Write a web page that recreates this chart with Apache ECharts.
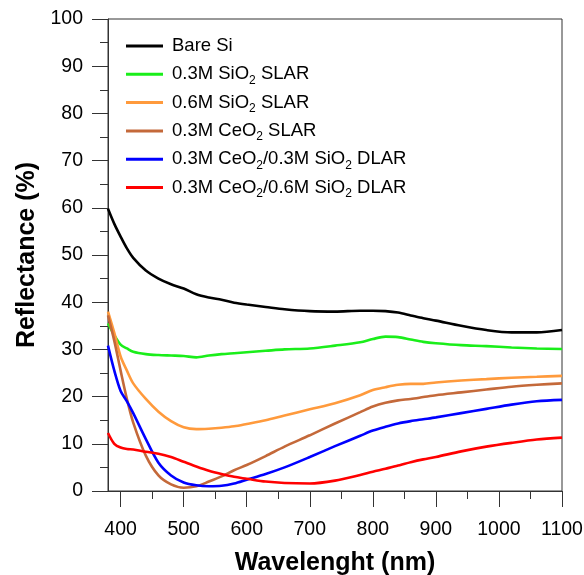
<!DOCTYPE html>
<html>
<head>
<meta charset="utf-8">
<script src="https://cdn.jsdelivr.net/npm/echarts@6/dist/echarts.min.js"></script>
<style>
html,body{margin:0;padding:0;background:#fff;}
#container{width:584px;height:575px;}
</style>
</head>
<body>
<div id="container"></div>
<script>
// wavelength grid (nm) shared by all curves
var wavelength = [380,390,400,410,420,440,460,480,500,520,540,560,580,600,630,660,700,740,780,800,820,840,860,880,900,940,980,1020,1060,1100];

var bareSi     = [59.8,56.6,53.9,51.4,49.4,46.7,45.0,43.8,42.9,41.7,41.0,40.5,39.9,39.5,39.0,38.5,38.1,38.0,38.2,38.2,38.1,37.8,37.2,36.6,36.1,35.0,34.1,33.6,33.6,34.1];
var sio2_03    = [35.5,33.0,31.0,30.2,29.5,29.0,28.8,28.7,28.6,28.3,28.7,29.0,29.2,29.4,29.7,30.0,30.2,30.8,31.5,32.2,32.7,32.6,32.1,31.6,31.3,30.9,30.7,30.4,30.2,30.1];
var sio2_06    = [38.0,33.5,28.5,25.5,22.8,19.5,16.8,14.8,13.5,13.1,13.2,13.4,13.7,14.2,15.0,16.0,17.3,18.6,20.3,21.4,22.0,22.5,22.7,22.7,23.0,23.4,23.7,24.0,24.2,24.4];
var ceo2_03    = [37.2,31.8,25.5,19.5,14.5,7.5,3.3,1.4,0.7,1.0,2.0,3.1,4.4,5.5,7.4,9.4,11.8,14.3,16.7,17.9,18.7,19.2,19.5,19.9,20.3,20.9,21.5,22.1,22.5,22.8];
var dlar_03    = [30.8,25.5,21.2,19.0,16.5,11.0,6.0,3.3,1.8,1.2,1.0,1.1,1.6,2.4,3.6,5.0,7.2,9.5,11.7,12.8,13.6,14.3,14.8,15.2,15.6,16.5,17.4,18.3,19.0,19.3];
var dlar_06    = [12.3,10.0,9.2,8.9,8.8,8.3,7.9,7.2,6.2,5.2,4.3,3.6,3.0,2.6,2.0,1.7,1.6,2.2,3.4,4.1,4.7,5.4,6.1,6.7,7.2,8.4,9.4,10.2,10.9,11.3];

var seriesNames  = ['Bare Si','0.3M SiO2 SLAR','0.6M SiO2 SLAR','0.3M CeO2 SLAR','0.3M CeO2/0.3M SiO2 DLAR','0.3M CeO2/0.6M SiO2 DLAR'];
var seriesColors = ['#000000','#1aee1a','#ff9a3c','#c4693a','#0000ff','#ff0000'];
var seriesValues = [bareSi, sio2_03, sio2_06, ceo2_03, dlar_03, dlar_06];

var xMajor = [400,500,600,700,800,900,1000,1100];
var xMinor = [450,550,650,750,850,950,1050];

var font = 'Arial, "Liberation Sans", sans-serif';

function pairs(vals){
	var out = [];
	for(var i=0;i<wavelength.length;i++){
		out.push([wavelength[i], vals[i]]);
	}
	return out;
}

var series = [];
for(var k=0;k<seriesNames.length;k++){
	series.push({
		name: seriesNames[k],
		type: 'line',
		xAxisIndex: 0,
		symbol: 'none',
		smooth: 0.3,
		data: pairs(seriesValues[k]),
		lineStyle: {color: seriesColors[k], width: 2.6},
		itemStyle: {color: seriesColors[k]}
	});
}

var myChart = echarts.init(document.getElementById('container'));
myChart.setOption({
	animation: false,
	grid: {
		left: 108, right: 22, top: 19, bottom: 84,
		outerBoundsMode: 'none',
		containLabel: false,
		show: true, borderColor: '#333', borderWidth: 1
	},
	legend: {
		orient: 'vertical',
		left: 126, top: 34,
		padding: 0,
		icon: 'rect',
		itemWidth: 37, itemHeight: 3, itemGap: 4.3,
		data: seriesNames,
		formatter: function(name){
			return name.replace(/O2/g, 'O{s|2}');
		},
		textStyle: {
			fontFamily: font, fontSize: 18.5, color: '#000',
			padding: [0,0,0,4],
			lineHeight: 24,
			rich: {
				s: {fontFamily: font, fontSize: 12, color: '#000', verticalAlign: 'bottom', lineHeight: 24}
			}
		}
	},
	xAxis: [{
		type: 'value',
		min: 380, max: 1100,
		name: 'Wavelenght (nm)',
		nameLocation: 'middle',
		nameGap: 60,
		nameTextStyle: {fontFamily: font, fontSize: 25, fontWeight: 'bold', color: '#000'},
		axisLine: {show: true, lineStyle: {color: '#333', width: 1}},
		axisTick: {show: true, inside: false, length: 16, customValues: xMajor, lineStyle: {color: '#333'}},
		axisLabel: {customValues: xMajor, margin: 29, fontFamily: font, fontSize: 19.5, color: '#000',
			formatter: function(v){ return String(v); }},
		splitLine: {show: false}
	}, {
		type: 'value',
		min: 380, max: 1100,
		position: 'bottom',
		axisLine: {show: false},
		axisTick: {show: true, inside: false, length: 8, customValues: xMinor, lineStyle: {color: '#333'}},
		axisLabel: {show: false},
		splitLine: {show: false}
	}],
	yAxis: {
		type: 'value',
		min: 0, max: 100, interval: 10,
		name: 'Reflectance (%)',
		nameLocation: 'middle',
		nameGap: 67,
		nameTextStyle: {fontFamily: font, fontSize: 25, fontWeight: 'bold', color: '#000'},
		axisLine: {show: true, lineStyle: {color: '#333', width: 1}},
		axisTick: {show: true, inside: false, length: 16, lineStyle: {color: '#333'}},
		minorTick: {show: true, splitNumber: 2, length: 8, lineStyle: {color: '#333'}},
		axisLabel: {margin: 25, fontFamily: font, fontSize: 19.5, color: '#000'},
		splitLine: {show: false}
	},
	series: series
});
</script>
</body>
</html>
